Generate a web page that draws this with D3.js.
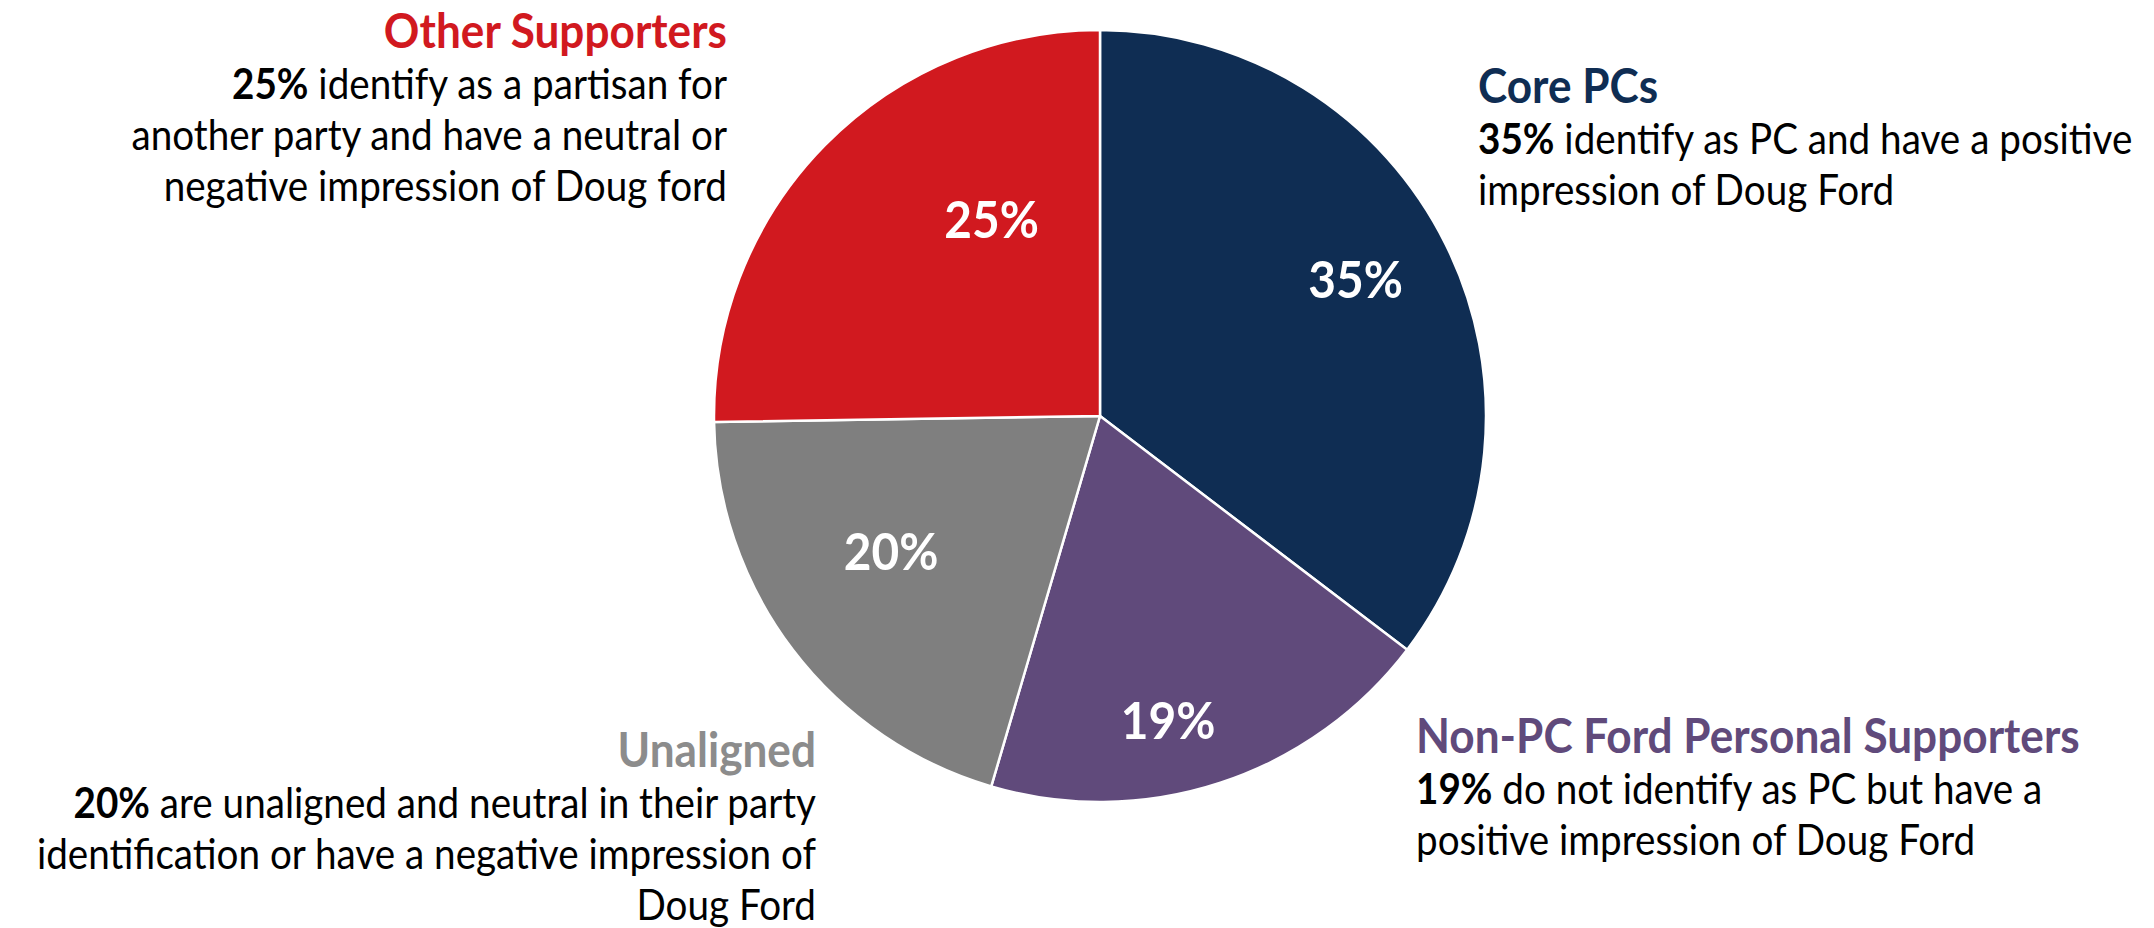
<!DOCTYPE html>
<html>
<head>
<meta charset="utf-8">
<script src="https://cdn.jsdelivr.net/npm/d3@7"></script>
<style>
  html, body { margin: 0; padding: 0; background: #fff; }
  svg { display: block; }
  text { font-family: Lato, "Open Sans", sans-serif; }
</style>
</head>
<body>
<div id="chart"></div>
<script>
// segments, clockwise from 12 o'clock
const segments = ["Core PCs", "Non-PC Ford Personal Supporters", "Unaligned", "Other Supporters"];
const shares = [35, 19, 20, 25];
const colors = ["#0f2d53", "#604a7b", "#7f7f7f", "#d1191f"];
const titleColors = ["#0f2d53", "#604a7b", "#8c8c8c", "#d1191f"];
const descLines = [
  ["identify as PC and have a positive", "impression of Doug Ford"],
  ["do not identify as PC but have a", "positive impression of Doug Ford"],
  ["are unaligned and neutral in their party", "identification or have a negative impression of", "Doug Ford"],
  ["identify as a partisan for", "another party and have a neutral or", "negative impression of Doug ford"]
];

const width = 2154, height = 928;
const cx = 1100, cy = 416, radius = 386;

// where the percentage sits inside each slice (fraction of radius, angle nudge in degrees)
const labelPlace = [[0.75, -1.6], [0.81, 5.6], [0.645, 4.3], [0.58, 16.5]];
// callout blocks: anchor x, first baseline, alignment
const blocks = [
  { x: 1478, y: 103, anchor: "start" },
  { x: 1416, y: 753, anchor: "start" },
  { x: 816, y: 767, anchor: "end" },
  { x: 727, y: 48, anchor: "end" }
];
const lineGap = 51;
const squeeze = 0.92; // Lato is a little wider than the original face

const svg = d3.select("#chart").append("svg")
  .attr("width", width)
  .attr("height", height)
  .attr("viewBox", `0 0 ${width} ${height}`);

const pie = d3.pie().sort(null).value(d => d);
const arcs = pie(shares);
const arc = d3.arc().innerRadius(0).outerRadius(radius);

const pg = svg.append("g").attr("transform", `translate(${cx},${cy})`);

pg.selectAll("path")
  .data(arcs)
  .join("path")
  .attr("d", arc)
  .attr("fill", (d, i) => colors[i])
  .attr("stroke", "#fff")
  .attr("stroke-width", 2.5)
  .attr("stroke-linejoin", "round");

pg.selectAll("text.pct")
  .data(arcs)
  .join("text")
  .attr("class", "pct")
  .attr("transform", (d, i) => {
    const a = (d.startAngle + d.endAngle) / 2 + labelPlace[i][1] * Math.PI / 180;
    const r = radius * labelPlace[i][0];
    const c = d3.arc().innerRadius(r).outerRadius(r).centroid({ startAngle: a, endAngle: a });
    return `translate(${c[0]},${c[1]}) scale(${squeeze},1)`;
  })
  .attr("text-anchor", "middle")
  .attr("dy", "0.35em")
  .attr("fill", "#fff")
  .attr("font-weight", "bold")
  .attr("font-size", "52px")
  .text(d => `${d.data}%`);

// callouts
const cg = svg.selectAll("g.callout")
  .data(segments)
  .join("g")
  .attr("class", "callout")
  .attr("transform", (d, i) => `translate(${blocks[i].x},${blocks[i].y}) scale(${squeeze},1)`)
  .attr("text-anchor", (d, i) => blocks[i].anchor);

cg.append("text")
  .attr("font-size", "48px")
  .attr("font-weight", "bold")
  .attr("fill", (d, i) => titleColors[i])
  .text(d => d);

cg.each(function (d, i) {
  const g = d3.select(this);
  descLines[i].forEach((line, j) => {
    const t = g.append("text")
      .attr("y", (j + 1) * lineGap)
      .attr("font-size", "42px")
      .attr("fill", "#000");
    if (j === 0) {
      t.append("tspan").attr("font-weight", "bold").text(`${shares[i]}%`);
      t.append("tspan").text(" " + line);
    } else {
      t.text(line);
    }
  });
});
</script>
</body>
</html>
